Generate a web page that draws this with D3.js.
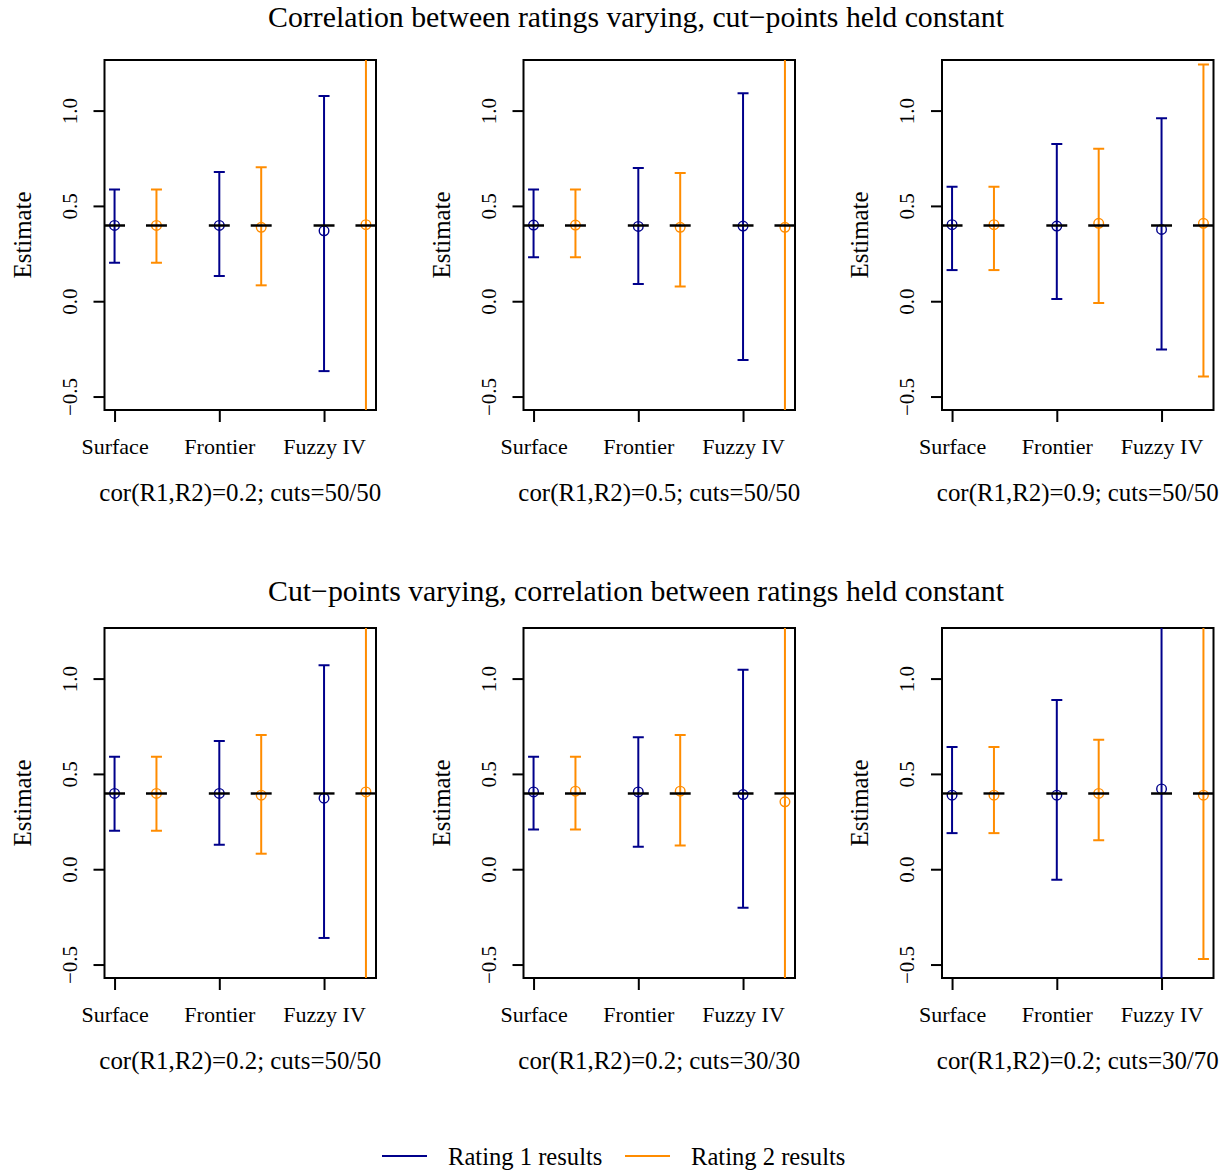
<!DOCTYPE html>
<html>
<head>
<meta charset="utf-8">
<script src="https://cdn.jsdelivr.net/npm/d3@7"></script>
<style>
  body { margin: 0; background: #fff; }
  svg { display: block; font-family: "Liberation Serif", "Times New Roman", serif; }
</style>
</head>
<body>
<div class="chart"></div>
<script>
// values
let methods = ["Surface", "Frontier", "Fuzzy IV"];
let methodPos = [1, 2, 3];
let offset2 = 0.4;           // rating 2 sits right of rating 1
let trueValue = 0.4;
let yTicks = [-0.5, 0.0, 0.5, 1.0];
let rowTitles = [
    "Correlation between ratings varying, cut\u2212points held constant",
    "Cut\u2212points varying, correlation between ratings held constant"
];
let panelLabels = [
    "cor(R1,R2)=0.2; cuts=50/50",
    "cor(R1,R2)=0.5; cuts=50/50",
    "cor(R1,R2)=0.9; cuts=50/50",
    "cor(R1,R2)=0.2; cuts=50/50",
    "cor(R1,R2)=0.2; cuts=30/30",
    "cor(R1,R2)=0.2; cuts=30/70"
];
let seriesNames = ["Rating 1 results", "Rating 2 results"];

// rating 1: estimate, lower, upper per panel (Surface, Frontier, Fuzzy IV)
let r1Est = [
    [0.400, 0.400, 0.372], [0.402, 0.395, 0.397], [0.404, 0.397, 0.379],
    [0.400, 0.400, 0.375], [0.408, 0.408, 0.394], [0.391, 0.391, 0.424]
];
let r1Lo = [
    [0.205, 0.135, -0.364], [0.233, 0.093, -0.306], [0.166, 0.014, -0.250],
    [0.204, 0.131, -0.358], [0.211, 0.120, -0.199], [0.192, -0.052, -1.30]
];
let r1Hi = [
    [0.589, 0.680, 1.079], [0.589, 0.701, 1.093], [0.603, 0.827, 0.963],
    [0.592, 0.675, 1.073], [0.592, 0.695, 1.049], [0.644, 0.890, 2.10]
];

// rating 2
let r2Est = [
    [0.400, 0.390, 0.404], [0.402, 0.390, 0.390], [0.404, 0.411, 0.411],
    [0.400, 0.391, 0.408], [0.412, 0.412, 0.356], [0.391, 0.400, 0.391]
];
let r2Lo = [
    [0.205, 0.086, -1.40], [0.233, 0.080, -1.35], [0.166, -0.007, -0.392],
    [0.204, 0.084, -1.40], [0.211, 0.127, -1.45], [0.192, 0.155, -0.468]
];
let r2Hi = [
    [0.589, 0.705, 2.20], [0.589, 0.675, 2.15], [0.603, 0.802, 1.245],
    [0.592, 0.707, 2.20], [0.592, 0.707, 2.25], [0.644, 0.682, 2.05]
];

let blue = "#00008b";
let orange = "#ff8c00";

let svg = d3.select(".chart")
    .append("svg")
        .attr("width", 1227)
        .attr("height", 1173);

let boxLefts = [104.5, 523.5, 942];
let boxTops = [60, 628];
let titleY = [27, 601];
let width = 271.5;
let height = 350;

let xScale = d3.scaleLinear()
    .domain([0.904, 3.496])
    .range([0, width]);

let yScale = d3.scaleLinear()
    .domain([-0.568, 1.268])
    .range([height, 0]);

// row titles
rowTitles.forEach((t, i) => {
    svg.append("text")
        .attr("x", 636)
        .attr("y", titleY[i])
        .attr("text-anchor", "middle")
        .style("font-size", "29.8px")
        .text(t);
});

let drawPanel = (p) => {
    let row = Math.floor(p / 3), col = p % 3;
    let g = svg.append("g")
        .attr("transform", `translate(${boxLefts[col]}, ${boxTops[row]})`);

    g.append("clipPath")
        .attr("id", `clip${p}`)
        .append("rect")
            .attr("width", width)
            .attr("height", height);

    // y axis
    let yAxis = d3.axisLeft(yScale)
        .tickValues(yTicks)
        .tickSize(11)
        .tickFormat(d3.format(".1f"));
    let ya = g.append("g").call(yAxis);
    ya.select(".domain").remove();
    ya.selectAll("line").attr("stroke-width", 2);
    ya.selectAll("text")
        .attr("x", 0).attr("y", 0).attr("dy", null)
        .attr("transform", d => `translate(-28, ${yScale(d)}) rotate(-90)`)
        .style("text-anchor", "middle")
        .style("font-family", "Liberation Serif, serif")
        .style("font-size", "21px")
        .attr("fill", "#000")
        .text(d => d3.format(".1f")(d).replace("-", "\u2212"));
    ya.selectAll(".tick").attr("transform", null);
    ya.selectAll(".tick line").attr("transform", d => `translate(0, ${yScale(d)})`);

    // x axis
    let xAxis = d3.axisBottom(xScale)
        .tickValues(methodPos)
        .tickSize(12)
        .tickFormat((d, i) => methods[i]);
    let xa = g.append("g")
        .attr("transform", `translate(0, ${height})`)
        .call(xAxis);
    xa.select(".domain").remove();
    xa.selectAll("line").attr("stroke-width", 2);
    xa.selectAll("text")
        .attr("y", 43.5).attr("dy", null)
        .style("font-family", "Liberation Serif, serif")
        .style("font-size", "22px")
        .attr("fill", "#000");

    // box
    g.append("rect")
        .attr("width", width)
        .attr("height", height)
        .attr("fill", "none")
        .attr("stroke", "#000")
        .attr("stroke-width", 2);

    g.append("text")
        .attr("transform", `translate(-74, ${height / 2}) rotate(-90)`)
        .attr("text-anchor", "middle")
        .style("font-size", "24.8px")
        .text("Estimate");

    g.append("text")
        .attr("x", width / 2)
        .attr("y", height + 90.7)
        .attr("text-anchor", "middle")
        .style("font-size", "24.9px")
        .text(panelLabels[p]);

    let series = [
        { color: blue, shift: 0, est: r1Est[p], lo: r1Lo[p], hi: r1Hi[p] },
        { color: orange, shift: offset2, est: r2Est[p], lo: r2Lo[p], hi: r2Hi[p] }
    ];
    let pts = [];
    series.forEach(s => methodPos.forEach((m, i) => pts.push({
        x: m + s.shift, est: s.est[i], lo: s.lo[i], hi: s.hi[i], color: s.color
    })));

    let plot = g.append("g").attr("clip-path", `url(#clip${p})`);

    plot.selectAll(".bar")
        .data(pts)
        .enter()
        .append("line")
        .attr("x1", d => xScale(d.x)).attr("x2", d => xScale(d.x))
        .attr("y1", d => yScale(d.lo)).attr("y2", d => yScale(d.hi))
        .attr("stroke", d => d.color)
        .attr("stroke-width", 2);

    ["lo", "hi"].forEach(k => {
        plot.selectAll(".cap-" + k)
            .data(pts)
            .enter()
            .append("line")
            .attr("x1", d => xScale(d.x) - 5.5).attr("x2", d => xScale(d.x) + 5.5)
            .attr("y1", d => yScale(d[k])).attr("y2", d => yScale(d[k]))
            .attr("stroke", d => d.color)
            .attr("stroke-width", 2);
    });

    plot.selectAll("circle")
        .data(pts)
        .enter()
        .append("circle")
        .attr("cx", d => xScale(d.x))
        .attr("cy", d => yScale(d.est))
        .attr("r", 4.8)
        .attr("fill", "none")
        .attr("stroke", d => d.color)
        .attr("stroke-width", 1.4);

    // true value markers
    plot.selectAll(".truth")
        .data(pts)
        .enter()
        .append("line")
        .attr("x1", d => xScale(d.x - 0.1)).attr("x2", d => xScale(d.x + 0.1))
        .attr("y1", yScale(trueValue)).attr("y2", yScale(trueValue))
        .attr("stroke", "#000")
        .attr("stroke-width", 2.4);
};

d3.range(6).forEach(drawPanel);

// legend
let legend = svg.append("g");
let legendX = [382, 625];
seriesNames.forEach((name, i) => {
    legend.append("line")
        .attr("x1", legendX[i]).attr("x2", legendX[i] + 45)
        .attr("y1", 1156).attr("y2", 1156)
        .attr("stroke", i === 0 ? blue : orange)
        .attr("stroke-width", 2);
    legend.append("text")
        .attr("x", legendX[i] + 66)
        .attr("y", 1165)
        .style("font-size", "24.6px")
        .text(name);
});
</script>
</body>
</html>
